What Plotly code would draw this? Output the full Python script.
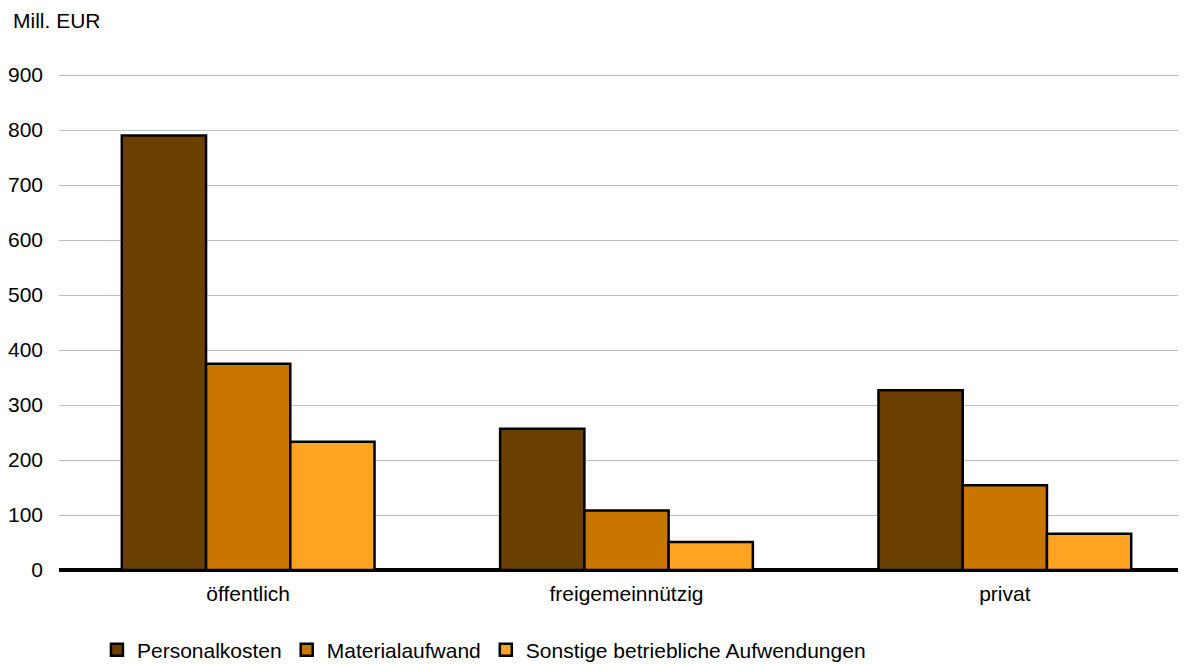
import plotly.graph_objects as go

categories = ["öffentlich", "freigemeinnützig", "privat"]
personalkosten = [790, 257, 327]
materialaufwand = [375, 108, 154]
sonstige = [233, 51, 66]
series_names = ["Personalkosten", "Materialaufwand", "Sonstige betriebliche Aufwendungen"]
colors = ["#6B3F00", "#C87600", "#FFA422"]
y_ticks = [0, 100, 200, 300, 400, 500, 600, 700, 800, 900]

fig = go.Figure()
for name, vals, col in zip(series_names, [personalkosten, materialaufwand, sonstige], colors):
    fig.add_trace(go.Bar(
        x=categories, y=vals, name=name,
        marker=dict(color=col, line=dict(color="#000000", width=2.5)),
    ))

font_family = "Liberation Sans, Arial, sans-serif"
fig.update_layout(
    width=1186, height=664,
    margin=dict(l=51, r=0, t=64, b=102, autoexpand=False),
    paper_bgcolor="white", plot_bgcolor="white",
    barmode="group", bargap=0.332, bargroupgap=0,
    font=dict(family=font_family, size=21, color="#000000"),
    showlegend=True,
    legend=dict(orientation="h", xref="container", yref="container",
                x=0.075, xanchor="left", y=0.033, yanchor="middle",
                font=dict(size=21, color="#000000"), traceorder="normal",
                itemwidth=30, bgcolor="rgba(0,0,0,0)"),
    xaxis=dict(range=[-0.5, 2.5], showgrid=False, showline=False, ticks="",
               tickfont=dict(size=21), zeroline=False, ticklabelstandoff=9,
               automargin=False),
    yaxis=dict(range=[0, 905.5], tickvals=y_ticks, showgrid=True, gridcolor="#BFBFBF",
               gridwidth=1, zeroline=True, zerolinecolor="#000000", zerolinewidth=4,
               showline=False, ticks="", tickfont=dict(size=21), ticklabelstandoff=15,
               automargin=False),
    annotations=[dict(text="Mill. EUR", xref="paper", yref="paper", x=-0.0423, y=1.0,
                      xanchor="left", yanchor="middle", yshift=52, showarrow=False,
                      font=dict(size=21, color="#000000"))],
)

fig.write_html("out.html")
